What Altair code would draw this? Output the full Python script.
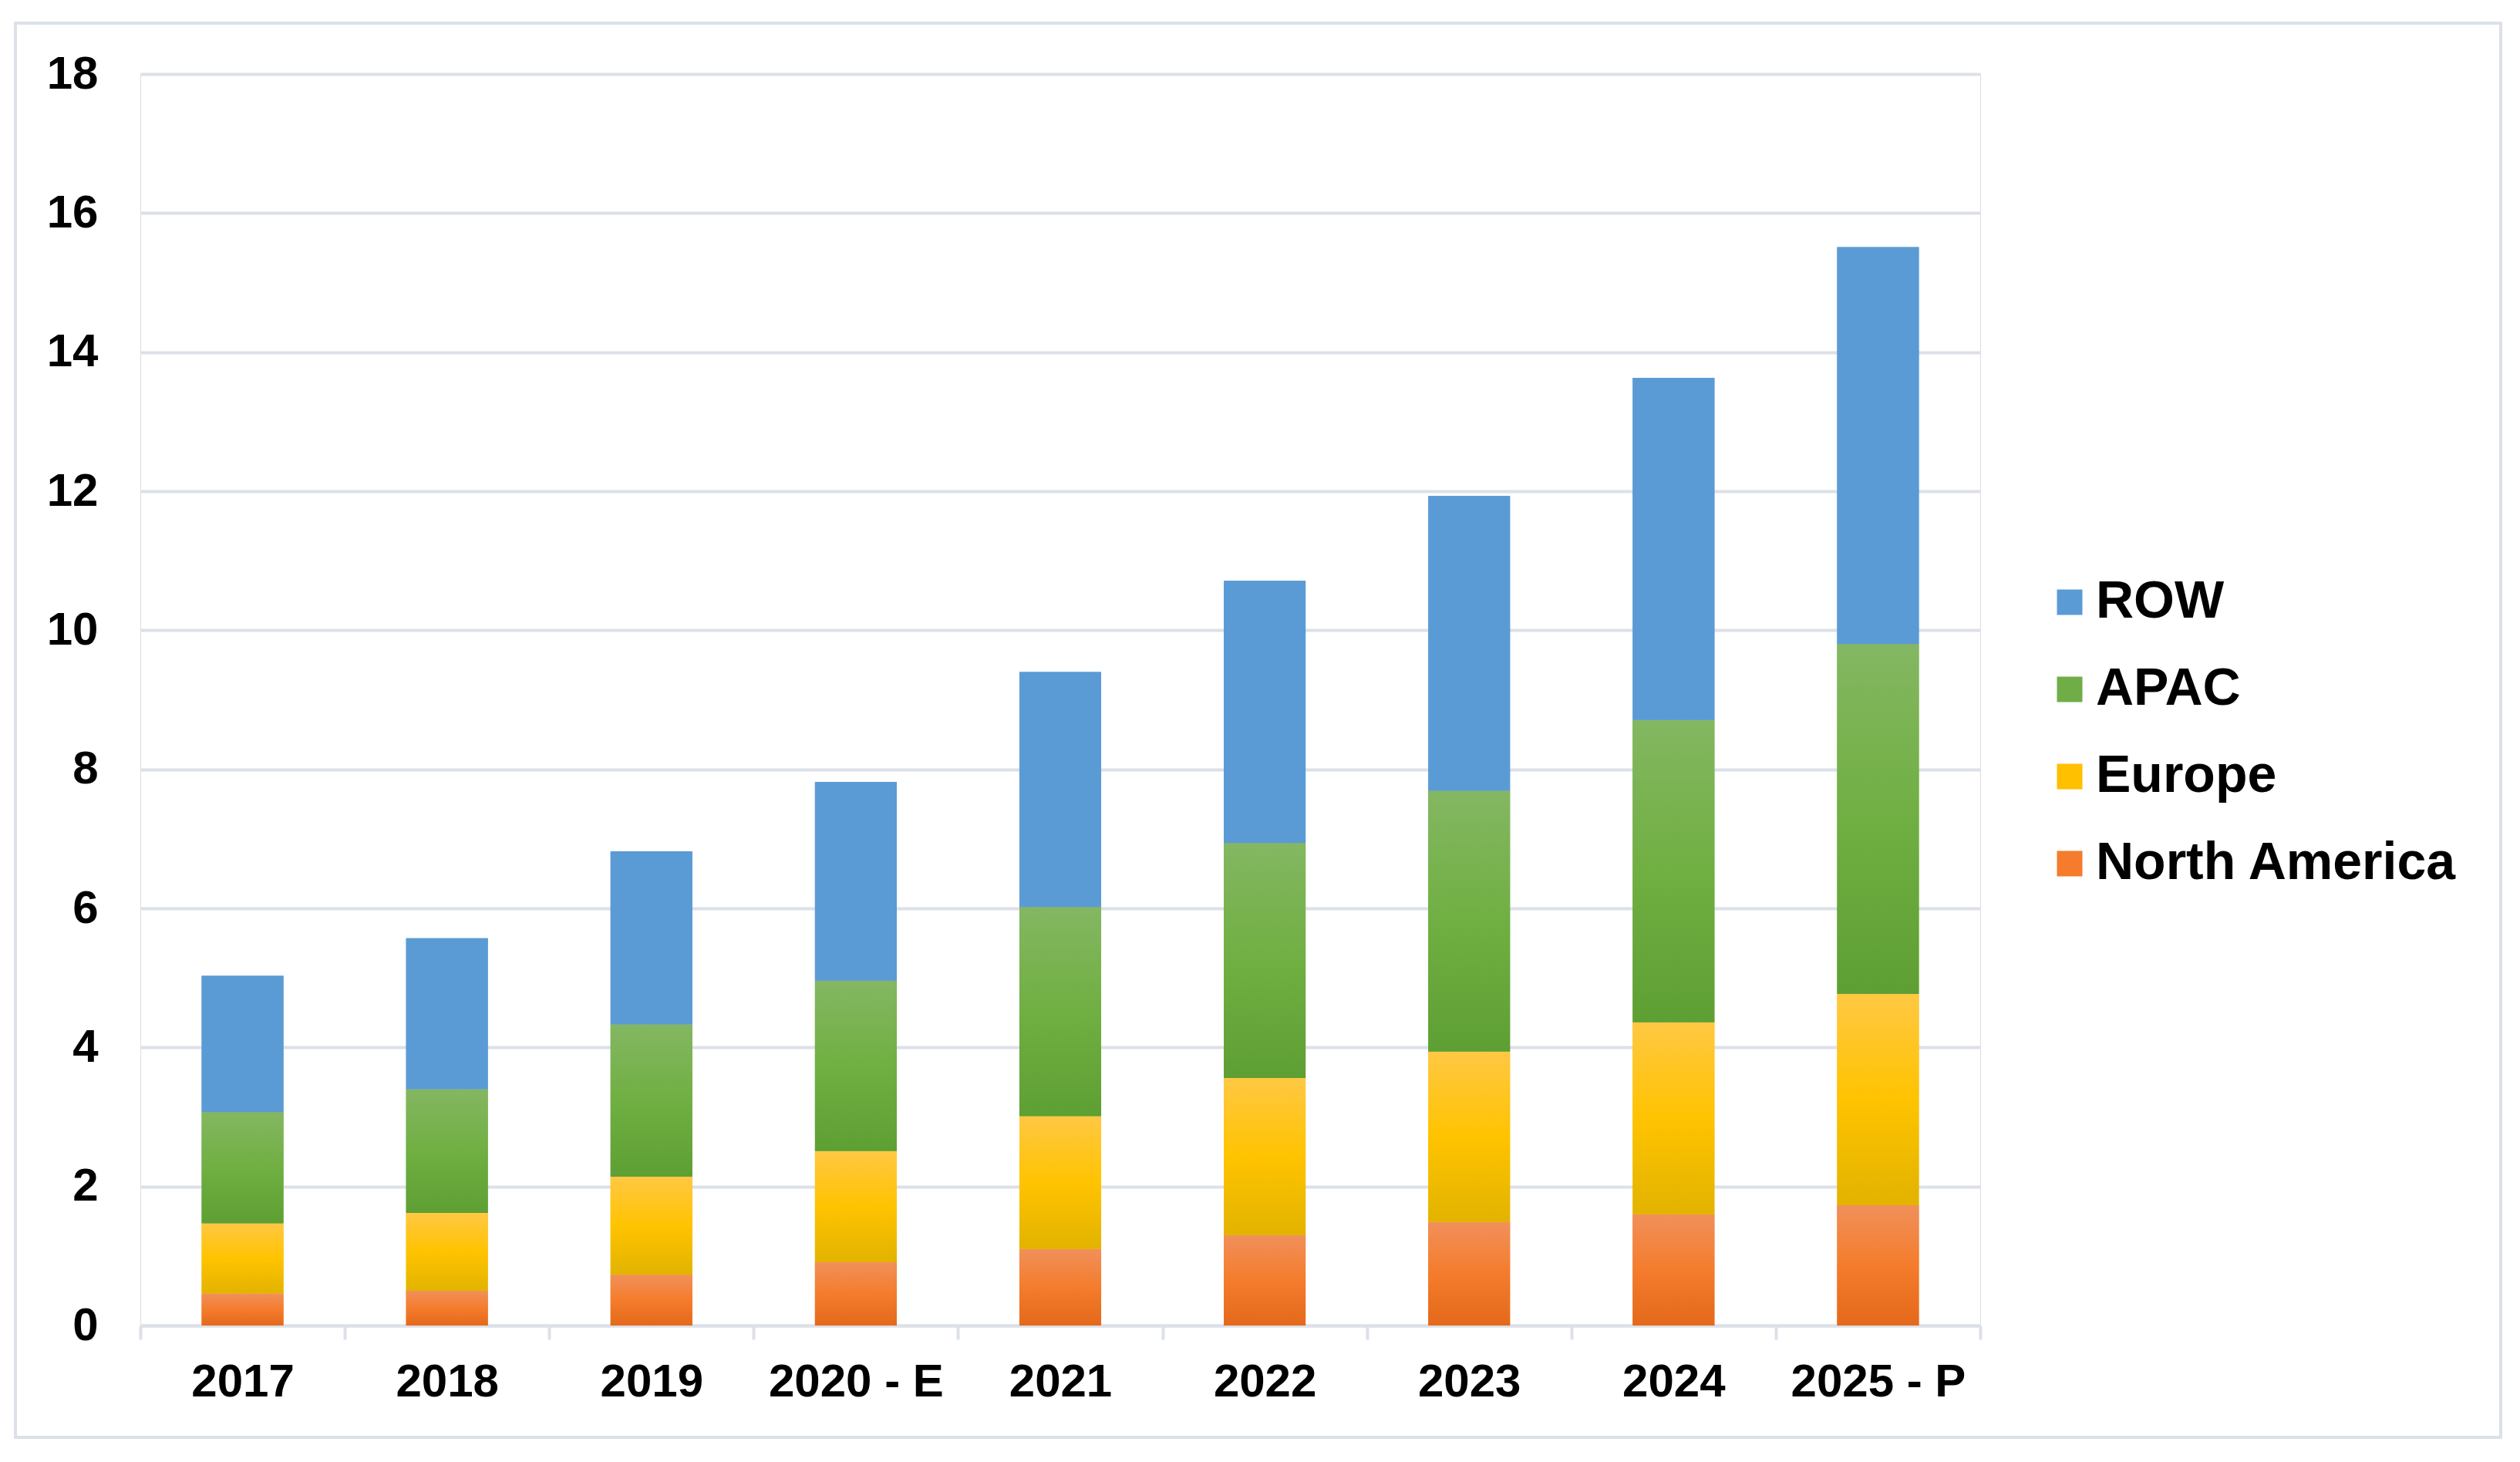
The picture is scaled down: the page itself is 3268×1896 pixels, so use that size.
import altair as alt
import pandas as pd

years = ["2017", "2018", "2019", "2020 - E", "2021", "2022", "2023", "2024", "2025 - P"]
north_america = [0.46, 0.50, 0.73, 0.91, 1.10, 1.30, 1.49, 1.60, 1.73]
europe = [1.01, 1.12, 1.41, 1.60, 1.91, 2.26, 2.45, 2.76, 3.04]
apac = [1.60, 1.78, 2.19, 2.45, 3.01, 3.38, 3.75, 4.35, 5.03]
row_vals = [1.96, 2.17, 2.49, 2.86, 3.38, 3.77, 4.24, 4.92, 5.71]
regions = ["North America", "Europe", "APAC", "ROW"]
legend_order = ["ROW", "APAC", "Europe", "North America"]
legend_colors = ["#5B9BD5", "#70AD47", "#FFC000", "#F47C2C"]
y_ticks = [0, 2, 4, 6, 8, 10, 12, 14, 16, 18]

series = [north_america, europe, apac, row_vals]
records = []
for i, yr in enumerate(years):
    for k, name in enumerate(regions):
        records.append({"year": yr, "region": name, "value": series[k][i], "order": k})
df = pd.DataFrame(records)


def grad(top, mid, bottom):
    return {
        "gradient": "linear", "x1": 0, "y1": 0, "x2": 0, "y2": 1,
        "stops": [
            {"offset": 0, "color": top},
            {"offset": 0.5, "color": mid},
            {"offset": 1, "color": bottom},
        ],
    }


fills = {
    "North America": grad("#F1905A", "#F47C2C", "#E4691A"),
    "Europe": grad("#FFC843", "#FFC300", "#E2B300"),
    "APAC": grad("#84B762", "#70AF42", "#5E9F33"),
    "ROW": grad("#5B9BD5", "#5B9BD5", "#5B9BD5"),
}

GRID = "#DCE0E8"
FONT = "Liberation Sans"
BAR_W = alt.RelativeBandSize(0.4)

x_enc = alt.X(
    "year:N", sort=years,
    scale=alt.Scale(paddingInner=0, paddingOuter=0),
    axis=alt.Axis(title=None, labelAngle=0, tickBand="extent", grid=False,
                  domain=True, domainColor=GRID, domainWidth=4,
                  ticks=True, tickColor=GRID, tickWidth=4, tickSize=18,
                  labelPadding=26, labelFontSize=60, labelLimit=1000,
                  labelFont=FONT, labelFontWeight="bold", labelColor="black"),
)
y_enc = alt.Y(
    "y0:Q", scale=alt.Scale(domain=[0, 18], nice=False),
    axis=alt.Axis(title=None, values=y_ticks, domain=False, ticks=False,
                  grid=True, gridColor=GRID, gridWidth=4,
                  labelPadding=55, labelFontSize=60,
                  labelFont=FONT, labelFontWeight="bold", labelColor="black"),
)
y2_enc = alt.Y2("y1:Q")

base = alt.Chart(df).transform_stack(
    stack="value", groupby=["year"], as_=["y0", "y1"],
    sort=[alt.SortField("order", order="ascending")],
)

legend_layer = base.mark_bar(width=BAR_W).encode(
    x=x_enc, y=y_enc, y2=y2_enc,
    color=alt.Color(
        "region:N",
        scale=alt.Scale(domain=legend_order, range=legend_colors),
        legend=alt.Legend(
            title=None, orient="none", legendX=2468, legendY=651,
            symbolType="square", symbolSize=1089, symbolStrokeWidth=0,
            labelFontSize=68, labelFont=FONT, labelFontWeight="bold",
            labelColor="black", labelOffset=0, rowPadding=45, labelLimit=1000,
        ),
    ),
)

grad_layers = [
    base.transform_filter(alt.datum.region == name)
    .mark_bar(fill=fills[name], width=BAR_W)
    .encode(x=x_enc, y=y_enc, y2=y2_enc)
    for name in regions
]

frame = alt.Chart(pd.DataFrame({"f": [0]})).mark_rect(
    fillOpacity=0, stroke=GRID, strokeWidth=4
).encode(
    x=alt.value(-162), x2=alt.value(3061), y=alt.value(-66), y2=alt.value(1768)
)

chart = alt.layer(frame, legend_layer, *grad_layers).properties(
    width=2386, height=1623,
    autosize=alt.AutoSizeParams(type="none"),
    padding={"left": 174, "top": 88, "right": 682, "bottom": 151},
).configure_view(strokeWidth=0).configure(background="white")

chart.save("out.html", embed_options={"renderer": "svg", "actions": False})
